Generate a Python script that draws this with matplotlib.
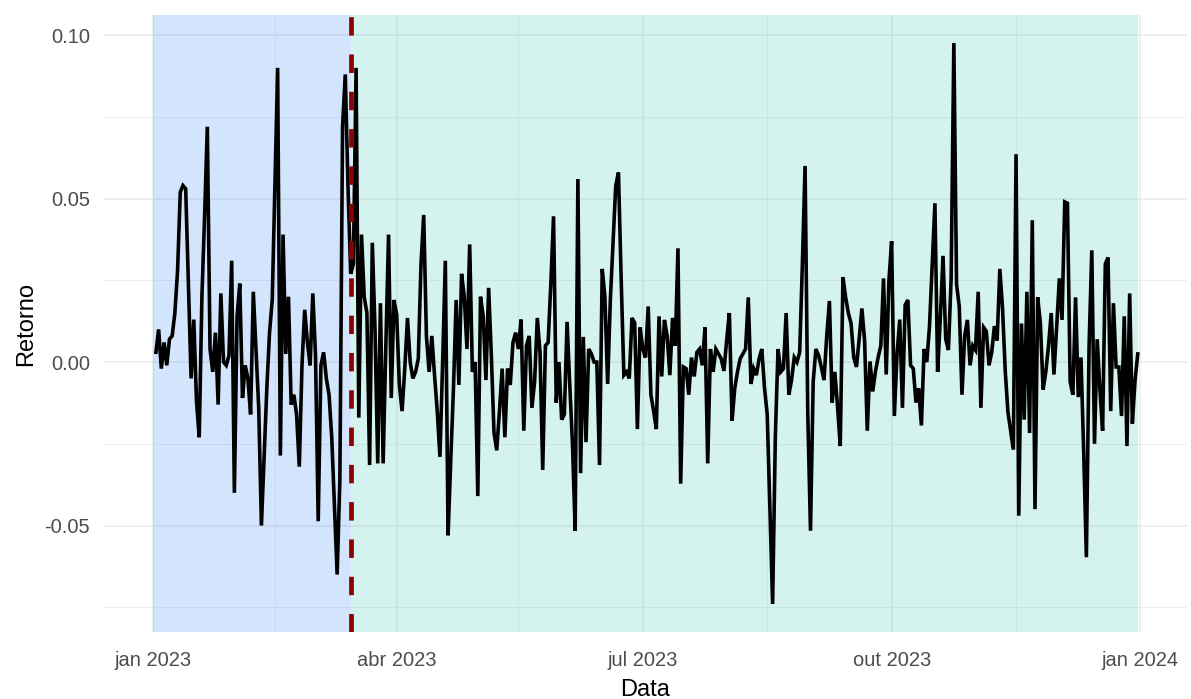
import numpy as np
import pandas as pd
import matplotlib
matplotlib.use("Agg")
import matplotlib.pyplot as plt
import matplotlib.dates as mdates

plt.rcParams["font.family"] = ["Liberation Sans", "DejaVu Sans"]

# Daily returns, one list per month (first value is 2 Jan 2023)
ret_jan = [0.003, 0.010, -0.002, 0.006, -0.001, 0.007, 0.008, 0.015, 0.028, 0.052,
           0.054, 0.053, 0.024, -0.005, 0.013, -0.012, -0.023, 0.020, 0.045, 0.072,
           0.004, -0.003, 0.009, -0.013, 0.021, 0.000, -0.001, 0.002, 0.031, -0.040]
ret_feb = [0.014, 0.024, -0.011, -0.001, -0.005, -0.016, 0.0215, 0.004, -0.014, -0.050,
           -0.029, -0.008, 0.009, 0.019, 0.054, 0.090, -0.0286, 0.039, 0.0025, 0.020,
           -0.013, -0.010, -0.016, -0.032, -0.001, 0.016, 0.006, -0.001]
ret_mar = [0.021, 0.002, -0.0487, -0.001, 0.003, -0.005, -0.010, -0.023, -0.044, -0.065,
           -0.036, 0.072, 0.088, 0.054, 0.027, 0.030, 0.090, -0.017, 0.039, 0.020,
           0.015, -0.0315, 0.0365, 0.010, -0.031, 0.018, -0.031, 0.005, 0.039, -0.011,
           0.019]
ret_apr = [0.0146, -0.007, -0.015, -0.002, 0.0135, 0.000, -0.005, -0.003, 0.001, 0.030,
           0.045, 0.008, -0.003, 0.008, -0.004, -0.015, -0.029, 0.000, 0.031, -0.053,
           -0.030, -0.008, 0.019, -0.007, 0.027, 0.020, 0.004, 0.036, -0.003, 0.000]
ret_may = [-0.041, 0.020, 0.014, -0.0055, 0.0227, 0.002, -0.0217, -0.027, -0.015, -0.002,
           -0.023, -0.002, -0.007, 0.006, 0.009, 0.004, 0.013, -0.021, 0.005, 0.008,
           -0.014, -0.006, 0.0135, 0.003, -0.033, 0.005, 0.006, 0.024, 0.0446, -0.0124,
           0.000]
ret_jun = [-0.0176, -0.016, 0.0123, -0.007, -0.025, -0.0516, 0.056, -0.034, 0.0077, -0.0245,
           0.004, 0.0025, 0.000, 0.000, -0.0315, 0.0285, 0.0198, -0.0067, 0.019, 0.0365,
           0.054, 0.058, 0.0256, -0.004, -0.003, -0.005, 0.0135, 0.012, -0.0205, 0.0106]
ret_jul = [0.004, 0.0014, 0.017, -0.010, -0.015, -0.0205, 0.014, -0.0044, 0.0129, 0.008,
           -0.004, 0.0135, 0.005, 0.0348, -0.0372, -0.0015, -0.002, -0.010, 0.0014, -0.0044,
           0.003, 0.004, -0.001, 0.0106, -0.031, 0.004, -0.003, 0.004, 0.0025, 0.001,
           -0.0027]
ret_aug = [0.0066, 0.015, -0.018, -0.008, -0.003, 0.001, 0.0025, 0.004, 0.0198, -0.0067,
           -0.002, -0.004, 0.001, 0.004, -0.008, -0.016, -0.0447, -0.074, -0.0228, 0.004,
           -0.003, -0.002, 0.015, -0.010, -0.0055, 0.0014, 0.000, 0.003, 0.030, 0.060,
           -0.016]
ret_sep = [-0.0516, -0.006, 0.004, 0.002, -0.0015, -0.0055, 0.008, 0.0187, -0.0124, -0.003,
           -0.0136, -0.0257, 0.026, 0.0198, 0.015, 0.0118, 0.0014, -0.0015, 0.0071, 0.0164,
           0.0066, -0.021, 0.0002, -0.009, -0.003, 0.0014, 0.005, 0.0256, -0.0038, 0.025]
ret_oct = [0.037, -0.0165, 0.0025, 0.013, -0.014, 0.0175, 0.019, -0.001, -0.002, -0.0124,
           -0.008, -0.0194, 0.004, 0.000, 0.011, 0.0296, 0.0486, -0.003, 0.0135, 0.0325,
           0.007, 0.0037, 0.0256, 0.0976, 0.0238, 0.017, -0.010, 0.008, 0.0129, -0.001,
           0.005]
ret_nov = [0.0037, 0.0215, -0.014, 0.0106, 0.0094, -0.001, 0.003, 0.011, 0.0066, 0.0285,
           0.0164, -0.0027, -0.0153, -0.021, -0.0268, 0.0636, -0.047, 0.0118, -0.0176, 0.0215,
           -0.0217, 0.0434, -0.045, 0.0198, 0.0118, -0.0084, -0.003, 0.005, 0.015, -0.0038]
ret_dec = [0.0106, 0.0256, 0.0129, 0.049, 0.0486, -0.006, -0.010, 0.0198, -0.0107, 0.0014,
           -0.0274, -0.0597, 0.005, 0.0342, -0.025, 0.007, -0.0084, -0.021, 0.030, 0.032,
           -0.015, 0.018, -0.0015, -0.0015, -0.0165, 0.014, -0.0257, 0.021, -0.0188, -0.0055,
           0.0025]

first_return_date = "2023-01-02"
period_start = "2023-01-01"
break_date = "2023-03-15"
period_end = "2023-12-31"

x_tick_dates = ["2023-01-01", "2023-04-01", "2023-07-01", "2023-10-01", "2024-01-01"]
x_tick_labels = ["jan 2023", "abr 2023", "jul 2023", "out 2023", "jan 2024"]
x_minor_dates = ["2023-02-15", "2023-05-16", "2023-08-16", "2023-11-16"]
y_ticks = [-0.05, 0.00, 0.05, 0.10]
y_tick_labels = ["-0.05", "0.00", "0.05", "0.10"]
y_minor = [-0.075, -0.025, 0.025, 0.075]

returns = np.array(ret_jan + ret_feb + ret_mar + ret_apr + ret_may + ret_jun +
                   ret_jul + ret_aug + ret_sep + ret_oct + ret_nov + ret_dec)
dates = pd.date_range(first_return_date, periods=len(returns), freq="D")

W, H, DPI = 1191, 699, 100
fig = plt.figure(figsize=(W / DPI, H / DPI), dpi=DPI, facecolor="white")
ax = fig.add_axes([104 / W, 1 - 632 / H, (1187 - 104) / W, (632 - 15) / H])
ax.set_facecolor("white")

t0 = mdates.date2num(pd.Timestamp(period_start))
t1 = mdates.date2num(pd.Timestamp(period_end))
tb = mdates.date2num(pd.Timestamp(break_date))
xpad = 0.05 * (t1 - t0)
ymin, ymax = returns.min(), returns.max()
ypad = 0.05 * (ymax - ymin)
ax.set_xlim(t0 - xpad, t1 + xpad)
ax.set_ylim(ymin - ypad, ymax + ypad)

# background grid
grid_col = "#EBEBEB"
ax.set_xticks([mdates.date2num(pd.Timestamp(d)) for d in x_tick_dates])
ax.set_xticklabels(x_tick_labels)
ax.set_xticks([mdates.date2num(pd.Timestamp(d)) for d in x_minor_dates], minor=True)
ax.set_yticks(y_ticks)
ax.set_yticklabels(y_tick_labels)
ax.set_yticks(y_minor, minor=True)
ax.grid(True, which="major", color=grid_col, linewidth=1.1, zorder=0)
ax.grid(True, which="minor", color=grid_col, linewidth=0.6, zorder=0)
ax.set_axisbelow(True)

# shaded periods before and after the break
ax.axvspan(t0, tb, color="#1E7DF0", alpha=0.2, linewidth=0, zorder=1)
ax.axvspan(tb, t1, color="#2BC4B0", alpha=0.2, linewidth=0, zorder=1)

ax.plot(mdates.date2num(dates), returns, color="black", linewidth=2.6,
        solid_joinstyle="miter", zorder=3)

ax.axvline(tb, color="#8B0000", linewidth=3.4, linestyle=(0, (3.9, 4.0)), zorder=4)

for s in ax.spines.values():
    s.set_visible(False)
ax.tick_params(axis="both", which="both", length=0)
ax.tick_params(axis="y", labelsize=14.5, labelcolor="#4D4D4D", pad=10)
ax.tick_params(axis="x", labelsize=14.5, labelcolor="#4D4D4D", pad=14)

ax.set_xlabel("Data", fontsize=17, color="black", labelpad=6)
ax.set_ylabel("Retorno", fontsize=17, color="black", labelpad=5)

fig.savefig("out.png", dpi=DPI, facecolor="white")
